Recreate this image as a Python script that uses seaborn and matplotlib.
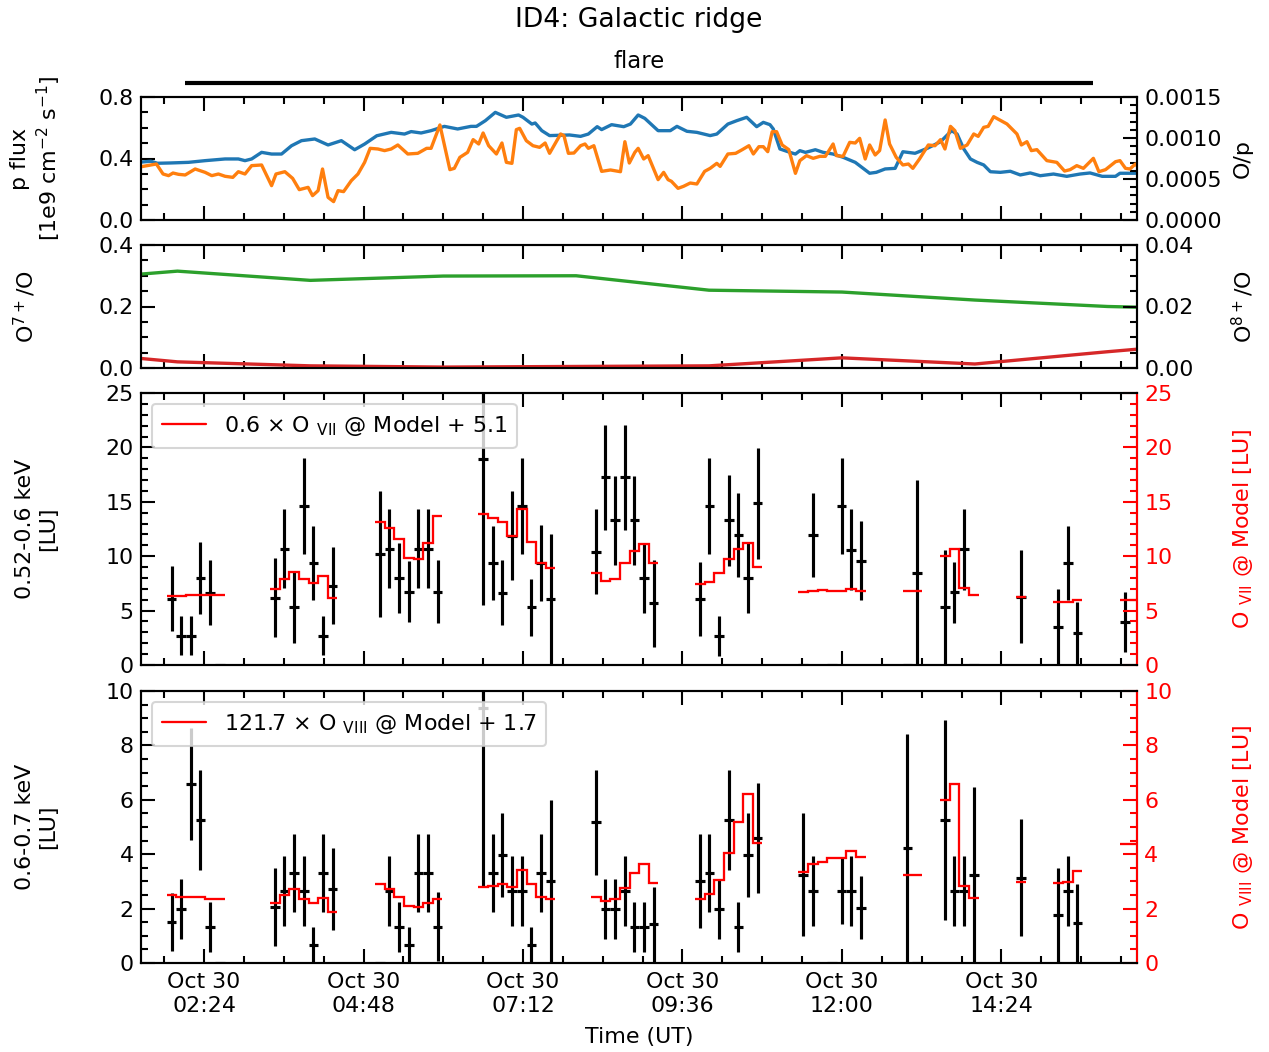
import numpy as np
import pandas as pd
import matplotlib
matplotlib.use("Agg")
import matplotlib.pyplot as plt
import matplotlib.dates as mdates
from matplotlib.ticker import MultipleLocator, FormatStrFormatter
import seaborn as sns

# ---------------- data ----------------
day = "2023-10-30"
# proton flux (minutes after 00:00 UT)
p_time = [84, 96, 102, 114, 130, 145, 163, 175, 181, 187, 196, 205, 214, 223, 232, 244, 256, 268, 280, 289,
          300, 313, 325, 331, 340, 349, 361, 373, 385, 390, 398, 407, 417, 428, 432, 440, 443, 449, 456, 474,
          484, 491, 499, 503, 512, 523, 529, 536, 542, 554, 565, 571, 580, 589, 601, 607, 617, 625, 634, 643,
          649, 655, 658, 664, 673, 678, 682, 687, 696, 703, 712, 721, 732, 745, 751, 759, 768, 775, 786, 797,
          809, 819, 824, 830, 836, 842, 848, 854, 863, 872, 881, 890, 899, 911, 923, 935, 944, 955, 967, 971,
          983, 989]
p_flux = [0.375, 0.382, 0.369, 0.371, 0.375, 0.386, 0.397, 0.397, 0.386, 0.397, 0.440, 0.429, 0.429, 0.483,
          0.516, 0.527, 0.488, 0.516, 0.457, 0.494, 0.548, 0.570, 0.559, 0.575, 0.566, 0.581, 0.609, 0.592,
          0.609, 0.609, 0.646, 0.700, 0.668, 0.683, 0.668, 0.624, 0.631, 0.581, 0.549, 0.553, 0.544, 0.559,
          0.607, 0.588, 0.620, 0.607, 0.624, 0.683, 0.661, 0.581, 0.581, 0.609, 0.577, 0.570, 0.549, 0.559,
          0.624, 0.646, 0.668, 0.607, 0.635, 0.620, 0.592, 0.462, 0.440, 0.429, 0.451, 0.440, 0.457, 0.440,
          0.429, 0.408, 0.375, 0.304, 0.310, 0.332, 0.336, 0.444, 0.434, 0.466, 0.509, 0.581, 0.559, 0.462,
          0.397, 0.375, 0.358, 0.314, 0.310, 0.317, 0.293, 0.306, 0.288, 0.299, 0.284, 0.299, 0.306, 0.284,
          0.284, 0.304, 0.304, 0.304]
# O/p ratio (units of 1e-4)
op_time = [84, 101, 107, 112, 116, 121, 127, 136, 145, 151, 157, 163, 170, 175, 181, 187, 196, 205, 209, 217,
           224, 230, 238, 242, 247, 251, 256, 261, 265, 270, 277, 283, 289, 294, 301, 307, 313, 319, 328, 337,
           345, 349, 357, 366, 370, 375, 382, 387, 392, 396, 401, 408, 413, 417, 422, 426, 429, 435, 441, 447,
           452, 456, 466, 469, 473, 478, 484, 488, 491, 496, 503, 511, 520, 524, 528, 533, 536, 541, 545, 554,
           559, 563, 566, 572, 577, 583, 589, 596, 601, 607, 610, 617, 624, 630, 636, 640, 645, 649, 653, 657,
           661, 666, 672, 678, 682, 688, 694, 700, 705, 712, 715, 721, 727, 732, 736, 741, 745, 750, 754, 759,
           763, 769, 775, 780, 784, 790, 798, 804, 809, 813, 818, 822, 827, 833, 839, 843, 848, 852, 857, 869,
           878, 882, 887, 891, 896, 905, 914, 921, 926, 932, 938, 947, 952, 958, 967, 971, 976, 980, 985, 989]
op_1e4 = [6.42, 6.83, 5.61, 5.41, 5.73, 5.57, 5.49, 6.22, 5.81, 5.41, 5.61, 5.33, 5.20, 5.89, 5.61, 6.63, 6.71,
          4.19, 5.61, 5.89, 5.08, 3.70, 3.98, 2.97, 3.58, 6.22, 2.76, 2.24, 3.58, 3.46, 4.80, 5.61, 7.03, 8.74,
          8.66, 8.46, 8.66, 9.15, 8.05, 8.13, 8.74, 8.74, 11.59, 6.14, 6.30, 7.64, 8.25, 9.80, 9.27, 10.61, 9.06,
          8.05, 9.39, 7.03, 6.91, 11.02, 11.18, 9.67, 9.06, 8.86, 9.39, 8.13, 10.49, 10.28, 8.13, 8.17, 9.06,
          9.27, 8.74, 9.06, 5.93, 6.10, 5.89, 9.55, 6.95, 8.25, 8.74, 7.44, 7.85, 4.92, 5.81, 4.92, 4.72, 3.86,
          4.11, 4.51, 4.39, 5.93, 6.30, 6.91, 6.54, 8.05, 8.13, 8.58, 9.06, 8.05, 8.94, 8.94, 8.33, 10.77, 10.77,
          9.15, 8.58, 5.69, 7.24, 7.85, 7.52, 7.76, 7.76, 9.27, 7.85, 7.76, 9.47, 9.39, 9.96, 7.44, 9.15, 7.93,
          8.46, 12.20, 9.27, 7.64, 6.71, 6.83, 6.30, 7.44, 9.15, 9.06, 9.80, 8.66, 11.42, 10.89, 8.74, 9.15,
          10.49, 10.20, 11.30, 11.42, 12.60, 11.71, 10.49, 9.15, 9.55, 8.46, 8.58, 7.24, 7.03, 5.97, 6.14, 6.63,
          6.30, 7.52, 5.89, 6.14, 7.11, 7.24, 6.30, 6.22, 6.83, 6.22]
# charge state ratios (2 h cadence)
ion_time = [0, 120, 240, 360, 480, 600, 720, 840, 960, 1080]
o7_ratio = [0.280, 0.315, 0.285, 0.299, 0.300, 0.253, 0.247, 0.221, 0.200, 0.190]
o8_ratio = [0.0060, 0.0020, 0.0007, 0.0003, 0.0005, 0.0007, 0.0033, 0.0013, 0.0053, 0.0090]

# observation groups: start (minutes after 00:00 UT) and number of bins
grp_start = [110.3, 203.6, 298.4, 391.7, 493.4, 587.3, 680.6, 774.8, 808.5, 877.1, 910.8, 971.0]
grp_nbins = [6, 7, 7, 8, 7, 7, 7, 2, 4, 1, 3, 2]
bin_min = 8.7
nan = np.nan

# 0.52-0.6 keV band
lo_val = [6.1, 2.7, 2.7, 8.0, 6.65, 0,
          6.2, 10.7, 5.3, 14.6, 9.4, 2.7, 7.3,
          10.2, 10.7, 8.0, 6.75, 10.7, 10.7, 6.75,
          18.9, 9.36, 6.66, 11.9, 14.6, 5.3, 9.36, 6.07,
          10.4, 17.25, 13.3, 17.25, 13.3, 7.97, 5.67,
          6.07, 14.6, 2.67, 13.3, 11.95, 7.97, 14.86,
          0, 11.95, nan, 0, 14.6, 10.6, 9.6,
          0, 8.5,
          5.3, 6.68, 10.63, 0,
          6.28,
          3.52, 9.34, 2.9,
          3.92, nan]
lo_err = [3.0, 1.8, 1.8, 3.3, 3.0, 0,
          3.6, 3.65, 3.3, 4.4, 3.4, 1.8, 3.5,
          5.8, 3.65, 3.2, 2.8, 3.65, 3.65, 2.9,
          13.4, 3.4, 2.95, 4.05, 4.4, 2.6, 3.5, 6.0,
          3.9, 4.8, 4.1, 4.8, 4.1, 3.2, 4.0,
          3.4, 4.4, 1.8, 4.2, 3.9, 3.2, 5.1,
          0, 3.9, nan, 0, 4.4, 3.7, 3.6,
          0, 8.5,
          5.27, 2.8, 3.7, 0,
          4.3,
          3.5, 3.4, 2.9,
          2.76, nan]
lo_model = [6.35, 6.38, 6.42, 6.44, 6.44, 6.44,
            6.96, 7.91, 8.59, 7.88, 7.52, 8.19, 6.13,
            13.1, 12.6, 11.6, 9.88, 9.75, 11.2, 13.7,
            13.85, 13.5, 13.1, 11.86, 14.3, 11.3, 9.4, 8.95,
            8.49, 7.72, 7.87, 9.34, 10.5, 11.1, 9.4,
            7.45, 7.66, 8.49, 9.74, 10.7, 11.2, 8.98,
            6.68, 6.8, 6.9, 6.83, 6.83, 7.0, 6.83,
            6.8, 6.8,
            10.05, 10.7, 7.1, 6.4,
            6.28,
            5.82, 5.82, 5.97,
            5.97, 5.97]

# 0.6-0.7 keV band
hi_val = [1.5, 1.97, 6.57, 5.26, 1.34, 0,
          2.05, 2.65, 3.3, 2.65, 0.66, 3.3, 2.71,
          0, 2.65, 1.34, 0.66, 3.3, 3.3, 1.34,
          9.36, 3.3, 3.97, 2.65, 2.65, 0.66, 3.3, 3.01,
          5.17, 1.97, 1.97, 2.65, 1.34, 1.34, 1.42,
          3.01, 3.3, 1.97, 5.26, 1.34, 3.97, 4.58,
          3.24, 2.65, nan, 0, 2.65, 2.65, 2.03,
          4.22, 0,
          5.26, 2.65, 2.65, 3.24,
          3.14,
          1.76, 2.65, 1.46,
          nan, nan]
hi_err = [1.07, 1.1, 2.06, 1.84, 0.92, 0,
          1.43, 1.29, 1.43, 1.29, 0.65, 1.43, 1.5,
          0, 1.29, 0.92, 0.65, 1.43, 1.43, 1.27,
          6.56, 1.43, 1.56, 1.29, 1.29, 0.65, 1.43, 2.98,
          1.92, 1.1, 1.1, 1.29, 0.92, 0.92, 1.38,
          1.72, 1.43, 1.1, 1.84, 0.92, 1.56, 2.02,
          2.26, 1.29, nan, 0, 1.22, 1.29, 1.16,
          4.2, 0,
          3.67, 1.29, 1.29, 3.22,
          2.14,
          1.72, 1.29, 1.45,
          nan, nan]
hi_model = [2.5, 2.44, 2.41, 2.41, 2.34, 2.34,
            2.19, 2.5, 2.72, 2.35, 2.22, 2.38, 1.89,
            2.9, 2.71, 2.44, 2.11, 2.05, 2.22, 2.35,
            2.8, 2.83, 2.9, 2.8, 3.42, 2.89, 2.44, 2.35,
            2.44, 2.29, 2.34, 2.77, 3.3, 3.64, 2.95,
            2.35, 2.52, 3.05, 4.06, 5.2, 6.21, 4.42,
            3.36, 3.64, 3.73, 3.85, 3.85, 4.1, 3.9,
            3.24, 3.24,
            5.99, 6.57, 2.83, 2.38,
            2.99,
            2.93, 2.99, 3.39,
            4.37, 4.37]

flare_start, flare_end = 126.8, 946.6
x_range = (87.1, 986.4)

# ---------------- helpers ----------------
base = mdates.date2num(pd.Timestamp(day))
def tnum(minutes):
    return base + np.asarray(minutes, dtype=float) / 1440.0

# bin centres / edges per group
centers, edges_list, slices = [], [], []
i0 = 0
for s, n in zip(grp_start, grp_nbins):
    e = s + bin_min * np.arange(n + 1)
    edges_list.append(tnum(e))
    centers.extend(list(tnum(0.5 * (e[:-1] + e[1:]))))
    slices.append(slice(i0, i0 + n))
    i0 += n
centers = np.array(centers)

# ---------------- style ----------------
FS = 10.6
sns.set_theme(style="ticks")
plt.rcParams.update({
    "font.family": ["DejaVu Sans"],
    "font.size": FS, "axes.labelsize": FS, "xtick.labelsize": FS, "ytick.labelsize": FS,
    "legend.fontsize": FS, "axes.linewidth": 1.0,
    "xtick.direction": "in", "ytick.direction": "in",
    "xtick.major.size": 6.5, "ytick.major.size": 6.5,
    "xtick.minor.size": 3.3, "ytick.minor.size": 3.3,
    "xtick.major.width": 1.0, "ytick.major.width": 1.0,
    "xtick.minor.width": 1.0, "ytick.minor.width": 1.0,
    "axes.edgecolor": "black", "text.color": "black",
    "axes.labelcolor": "black", "xtick.color": "black", "ytick.color": "black",
})

W, H = 1269, 1052
fig = plt.figure(figsize=(W / 150, H / 150), dpi=150)
left, right = 141 / W, 1137 / W
def rect(top_px, bot_px):
    return [left, 1 - bot_px / H, right - left, (bot_px - top_px) / H]

ax1 = fig.add_axes(rect(97, 220))
ax2 = fig.add_axes(rect(245, 368), sharex=ax1)
ax3 = fig.add_axes(rect(393, 665), sharex=ax1)
ax4 = fig.add_axes(rect(691, 963), sharex=ax1)

# panel 1
ax1r = ax1.twinx()
sns.lineplot(x=tnum(p_time), y=p_flux, ax=ax1, color="#1f77b4", lw=1.6, estimator=None, sort=False)
sns.lineplot(x=tnum(op_time), y=np.array(op_1e4) * 1e-4, ax=ax1r, color="#ff7f0e", lw=1.6,
             estimator=None, sort=False)
ax1.set_ylim(0, 0.8)
ax1.yaxis.set_major_locator(MultipleLocator(0.4))
ax1.yaxis.set_minor_locator(MultipleLocator(0.1))
ax1.yaxis.set_major_formatter(FormatStrFormatter("%.1f"))
ax1r.set_ylim(0, 0.0015)
ax1r.yaxis.set_major_locator(MultipleLocator(0.0005))
ax1r.yaxis.set_minor_locator(MultipleLocator(0.0001))
ax1r.yaxis.set_major_formatter(FormatStrFormatter("%.4f"))
ax1.set_ylabel("p flux\n[1e9 cm$^{-2}$ s$^{-1}$]")
ax1r.set_ylabel("O/p")

# flare bar
ax1.plot(tnum([flare_start, flare_end]), [1.114, 1.114], transform=ax1.get_xaxis_transform(),
         color="black", lw=2.0, clip_on=False, solid_capstyle="butt")
ax1.text(tnum(0.5 * (flare_start + flare_end)), 1.285, "flare", transform=ax1.get_xaxis_transform(),
         ha="center", va="center", fontsize=10.9)

# panel 2
ax2r = ax2.twinx()
sns.lineplot(x=tnum(ion_time), y=o7_ratio, ax=ax2, color="#2ca02c", lw=1.6, estimator=None, sort=False)
sns.lineplot(x=tnum(ion_time), y=o8_ratio, ax=ax2r, color="#d62728", lw=1.6, estimator=None, sort=False)
ax2.set_ylim(0, 0.4)
ax2.yaxis.set_major_locator(MultipleLocator(0.2))
ax2.yaxis.set_minor_locator(MultipleLocator(0.05))
ax2.yaxis.set_major_formatter(FormatStrFormatter("%.1f"))
ax2r.set_ylim(0, 0.04)
ax2r.yaxis.set_major_locator(MultipleLocator(0.02))
ax2r.yaxis.set_minor_locator(MultipleLocator(0.005))
ax2r.yaxis.set_major_formatter(FormatStrFormatter("%.2f"))
ax2.set_ylabel("O$^{7+}$/O")
ax2r.set_ylabel("O$^{8+}$/O")

# panels 3 & 4
def spectral_panel(ax, val, err, model, ymax, major, minor, ylabel, rlabel, leglabel):
    axr = ax.twinx()
    ax.errorbar(centers, val, yerr=err, xerr=bin_min / 2 / 1440.0, fmt="none", ecolor="black",
                elinewidth=1.5, capsize=0, zorder=3)
    for k, sl in enumerate(slices):
        axr.stairs(np.asarray(model[sl]), edges_list[k], color="red", lw=1.1, baseline=None,
                   label=leglabel if k == 0 else None)
    for a in (ax, axr):
        a.set_ylim(0, ymax)
        a.yaxis.set_major_locator(MultipleLocator(major))
        a.yaxis.set_minor_locator(MultipleLocator(minor))
    ax.set_ylabel(ylabel)
    axr.set_ylabel(rlabel, color="red")
    axr.spines["right"].set_color("red")
    axr.tick_params(axis="y", which="both", colors="red")
    axr.legend(loc="upper left", handlelength=2.0, borderpad=0.45)
    return axr

ax3r = spectral_panel(ax3, lo_val, lo_err, lo_model, 25, 5, 1, "0.52-0.6 keV\n[LU]",
                      r"O $_{\rm VII}$ @ Model [LU]", r"0.6 $\times$ O $_{\rm VII}$ @ Model + 5.1")
ax4r = spectral_panel(ax4, hi_val, hi_err, hi_model, 10, 2, 0.5, "0.6-0.7 keV\n[LU]",
                      r"O $_{\rm VIII}$ @ Model [LU]", r"121.7 $\times$ O $_{\rm VIII}$ @ Model + 1.7")

# x axis
ax1.set_xlim(tnum(x_range[0]), tnum(x_range[1]))
ax4.xaxis.set_major_locator(MultipleLocator(0.1))
ax4.xaxis.set_minor_locator(MultipleLocator(0.025))
ax4.xaxis.set_major_formatter(mdates.DateFormatter("%b %d\n%H:%M"))
for a in (ax1, ax2, ax3, ax4):
    a.tick_params(axis="x", which="both", top=True, bottom=True)
    a.tick_params(axis="y", which="both", right=False)
    if a is not ax4:
        a.tick_params(axis="x", labelbottom=False)
ax4.tick_params(axis="x", which="major", pad=4.5)
for a in (ax1r, ax2r, ax3r, ax4r):
    a.tick_params(axis="x", which="both", top=False, bottom=False)
ax4.set_xlabel("Time (UT)", labelpad=5.5)

# label positions
for a, x in ((ax1, -0.105), (ax2, -0.117), (ax3, -0.105), (ax4, -0.105)):
    a.yaxis.set_label_coords(x, 0.5)
    a.yaxis.label.set_va("center")
    a.yaxis.label.set_ha("center")
for a in (ax1r, ax2r, ax3r, ax4r):
    a.yaxis.set_label_coords((1243 - 141) / 996, 0.5)
    a.yaxis.label.set_va("center")
    a.yaxis.label.set_ha("center")

fig.suptitle("ID4: Galactic ridge", x=(639 / W), y=1 - 20 / H, va="center", fontsize=12.8)
fig.savefig("out.png", dpi=150)
